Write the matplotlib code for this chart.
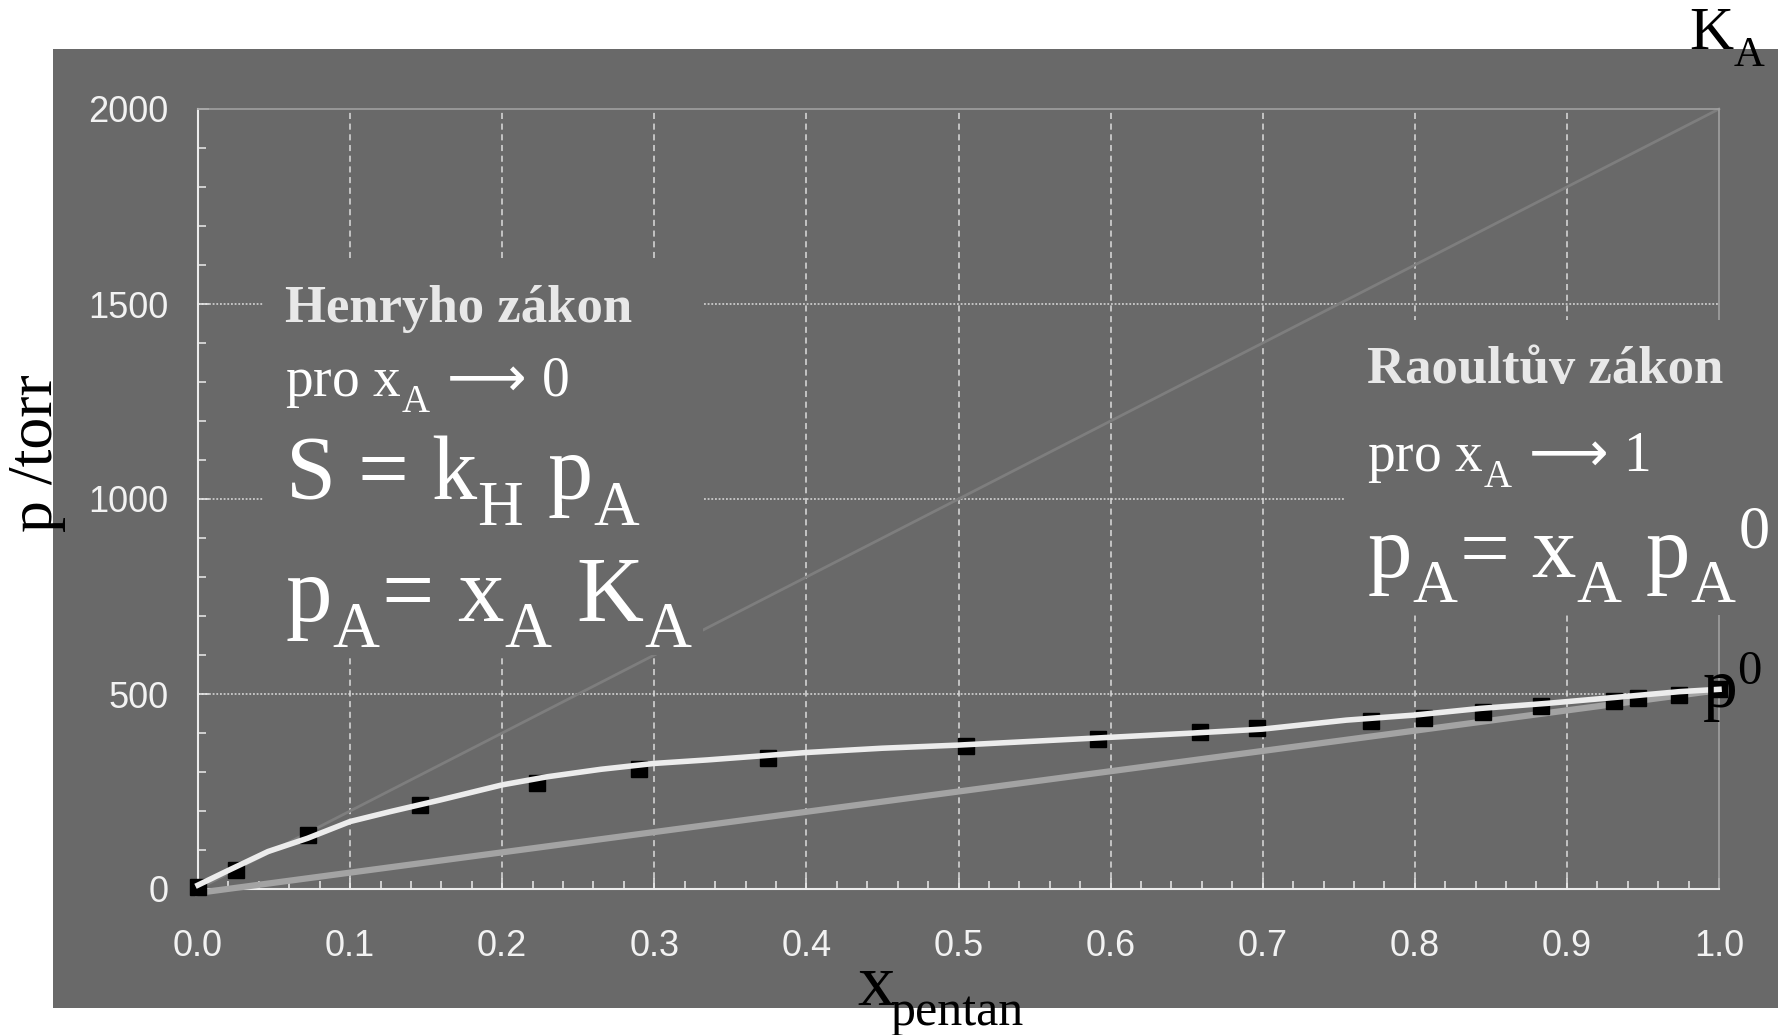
import numpy as np
import matplotlib.pyplot as plt
import matplotlib._mathtext as mathtext_internal
from matplotlib.patches import Rectangle
from matplotlib.ticker import MultipleLocator

W, H = 1778, 1035
BG = '#696969'

# measured vapour pressure of pentane over the solution
x_pentan = [0.0, 0.025, 0.072, 0.146, 0.223, 0.290, 0.3745, 0.505, 0.592, 0.659,
            0.696, 0.771, 0.806, 0.845, 0.883, 0.931, 0.947, 0.974, 1.0]
p_measured = [5, 50, 138, 215, 273, 307, 335, 367, 384, 403,
              413, 431, 438, 455, 470, 482, 489, 497, 512]

# smooth curve through the data
fit_x = [0.0, 0.018, 0.046, 0.072, 0.1, 0.126, 0.159, 0.2, 0.23, 0.265, 0.3, 0.335,
         0.4, 0.45, 0.5, 0.55, 0.6, 0.65, 0.7, 0.755, 0.8, 0.843, 0.887, 0.931,
         0.974, 1.0]
fit_p = [10, 44, 96, 130, 173, 198, 228, 267, 288, 307, 322, 331,
         350, 361, 369, 379, 389, 399, 410, 433, 446, 463, 476, 491,
         506, 512]

# limiting laws
henry_x = [0.0, 1.0]
henry_p = [0, 2000]
raoult_x = [0.0, 1.0]
raoult_p = [-10, 510]

x_ticks = np.round(np.arange(0, 1.01, 0.1), 1)
x_labels = ['%.1f' % v for v in x_ticks]
y_ticks = [0, 500, 1000, 1500, 2000]
y_labels = [str(v) for v in y_ticks]

plt.rcParams['font.family'] = ['Liberation Serif', 'DejaVu Serif']
plt.rcParams['mathtext.fontset'] = 'custom'
plt.rcParams['mathtext.rm'] = 'Liberation Serif'
plt.rcParams['mathtext.it'] = 'Liberation Serif'
plt.rcParams['mathtext.sf'] = 'DejaVu Sans'
plt.rcParams['mathtext.default'] = 'regular'
# subscripts sit lower in the original slide
mathtext_internal.FontConstantsBase.sub1 = 0.62


def fpos(x, y):
    return x / W, 1 - y / H


fig = plt.figure(figsize=(W / 100, H / 100), dpi=100)
fig.add_artist(Rectangle(fpos(53, 1008), (W - 53) / W, (1008 - 49) / H,
                         transform=fig.transFigure, facecolor=BG,
                         edgecolor='none', zorder=-1))

ax = fig.add_axes([198 / W, 1 - 889 / H, (1719 - 198) / W, (889 - 109) / H])
ax.set_facecolor(BG)
ax.set_xlim(0, 1)
ax.set_ylim(0, 2000)

for gx in x_ticks[1:-1]:
    ax.axvline(gx, color='#dcdcdc', lw=1.1, ls=(0, (4, 3)), zorder=1)
for gy in y_ticks[1:-1]:
    ax.axhline(gy, color='#dcdcdc', lw=1.1, ls=(0, (1.2, 1.2)), zorder=1)

ax.plot(henry_x, henry_p, color='#7e7e7e', lw=2, zorder=2, clip_on=False)
ax.plot(raoult_x, raoult_p, color='#a3a3a3', lw=4.5, zorder=3, clip_on=False)
ax.plot(x_pentan, p_measured, 's', color='black', ms=11, zorder=4, clip_on=False)
ax.plot(fit_x, fit_p, color='#ececec', lw=4, zorder=5, clip_on=False)

ax.set_xticks(x_ticks)
ax.set_xticklabels(x_labels, fontfamily='Liberation Sans')
ax.set_yticks(y_ticks)
ax.set_yticklabels(y_labels, fontfamily='Liberation Sans')
ax.xaxis.set_minor_locator(MultipleLocator(0.02))
ax.yaxis.set_minor_locator(MultipleLocator(100))
ax.tick_params(which='both', direction='in', color='#ececec',
               labelcolor='#f2f2f2', labelsize=26, width=1.1)
ax.tick_params(which='major', length=8)
ax.tick_params(which='minor', length=5.5)
ax.tick_params(axis='x', pad=29)
ax.tick_params(axis='y', pad=21)

for side in ['left', 'bottom']:
    ax.spines[side].set_color('#ececec')
    ax.spines[side].set_linewidth(1.5)
for side in ['top', 'right']:
    ax.spines[side].set_color('#a0a0a0')
    ax.spines[side].set_linewidth(1.2)

# boxes behind the annotations hide the grid
fig.add_artist(Rectangle(fpos(264, 655), (703 - 264) / W, (655 - 260) / H,
                         transform=fig.transFigure, facecolor=BG,
                         edgecolor='none', zorder=2))
fig.add_artist(Rectangle(fpos(1345, 615), (W - 1345) / W, (615 - 320) / H,
                         transform=fig.transFigure, facecolor=BG,
                         edgecolor='none', zorder=2))

arrow = r'\,\mathsf{\longrightarrow}\,'

fig.text(*fpos(285, 322), 'Henryho zákon', fontsize=38, fontweight='bold',
         color='#e8e8e8', va='baseline', zorder=3)
fig.text(*fpos(285, 397), r'pro x$_A' + arrow + '$0', fontsize=40, color='white',
         va='baseline', zorder=3)
fig.text(*fpos(285, 500), r'S = k$_H$ p$_A$', fontsize=65, color='white',
         va='baseline', zorder=3)
fig.text(*fpos(285, 620), r'p$_A$= x$_A$ K$_A$', fontsize=67, color='white',
         va='baseline', zorder=3)

fig.text(*fpos(1367, 383), 'Raoultův zákon', fontsize=38, fontweight='bold',
         color='#e8e8e8', va='baseline', zorder=3)
fig.text(*fpos(1367, 472), r'pro x$_A' + arrow + '$1', fontsize=40, color='white',
         va='baseline', zorder=3)
fig.text(*fpos(1367, 577), r'p$_A$= x$_A$ p$_A{}^0$', fontsize=64, color='white',
         va='baseline', zorder=3)

fig.text(*fpos(1689, 50), r'K$_A$', fontsize=44, color='black', va='baseline', zorder=3)
fig.text(*fpos(1702, 708), r'p$^0$', fontsize=50, color='black', va='baseline', zorder=3)

fig.text(*fpos(857, 1005), 'x', fontsize=54, color='black', va='baseline', zorder=3)
fig.text(*fpos(890, 1025), 'pentan', fontsize=36, color='black', va='baseline', zorder=3)
fig.text(*fpos(52, 532), 'p /torr', fontsize=46, color='black', rotation=90,
         rotation_mode='anchor', ha='left', va='baseline', zorder=3)

fig.savefig('out.png', dpi=100, facecolor='white')
